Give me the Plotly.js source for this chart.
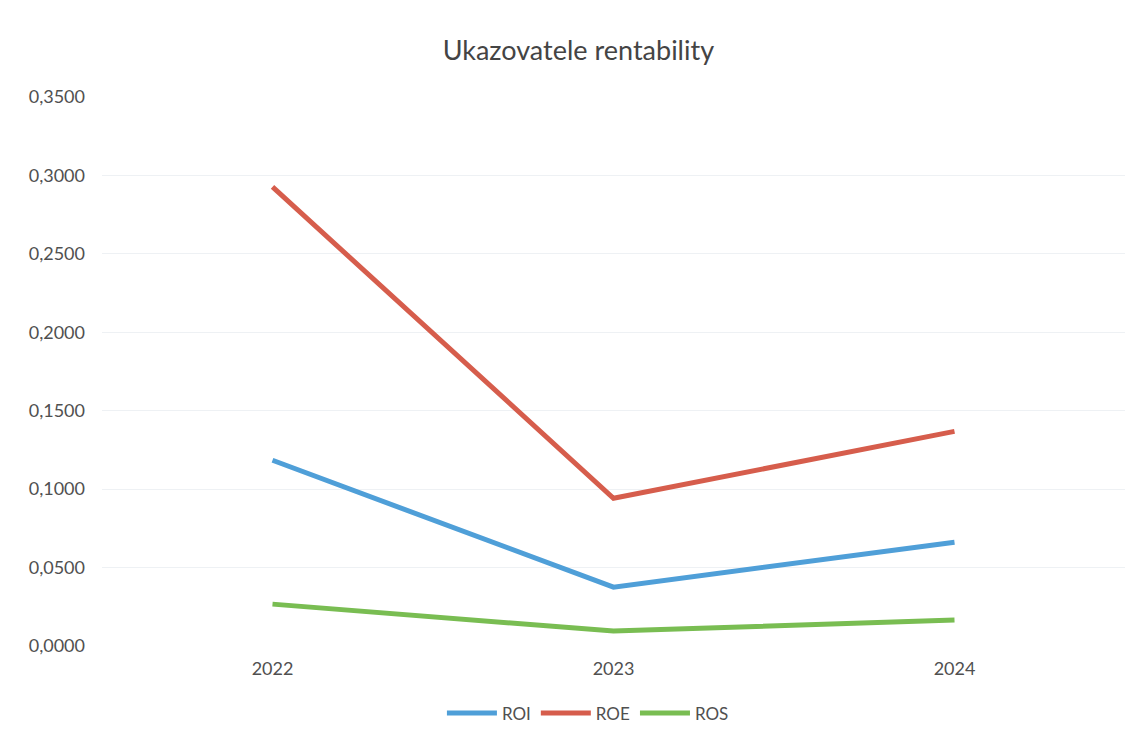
<!DOCTYPE html>
<html>
<head>
<meta charset="utf-8">
<script src="https://cdn.plot.ly/plotly-3.0.1.min.js"></script>
<style>html,body{margin:0;padding:0;background:#fff;}#chart{width:1143px;height:742px;}</style>
</head>
<body>
<div id="chart"></div>
<script>
const years = ['2022', '2023', '2024'];
const roi = [0.1184, 0.0375, 0.0662];
const roe = [0.2927, 0.0942, 0.1368];
const ros = [0.0267, 0.0095, 0.0165];

const font = 'Lato, "Open Sans", "Liberation Sans", sans-serif';
const traces = [
  {x: years, y: roi, name: 'ROI', type: 'scatter', mode: 'lines', line: {color: '#4f9fd8', width: 5}},
  {x: years, y: roe, name: 'ROE', type: 'scatter', mode: 'lines', line: {color: '#d65d4c', width: 5}},
  {x: years, y: ros, name: 'ROS', type: 'scatter', mode: 'lines', line: {color: '#79bd52', width: 5}}
];
const layout = {
  width: 1143, height: 742,
  paper_bgcolor: '#ffffff', plot_bgcolor: '#ffffff',
  margin: {l: 102, r: 18, t: 97, b: 95},
  separators: ', ',
  font: {family: font, color: '#555555'},
  title: {text: 'Ukazovatele rentability', x: 0.506, xanchor: 'center', y: 0.932, yanchor: 'middle',
          font: {family: font, size: 27, color: '#444444'}},
  xaxis: {type: 'category', range: [-0.5, 2.5], showgrid: false, zeroline: false, showline: false,
          ticks: '', tickfont: {size: 18, color: '#505050'}, ticklabelstandoff: 10},
  yaxis: {range: [0, 0.35], dtick: 0.05, tick0: 0, tickformat: '.4f', showgrid: true, gridcolor: '#eef1f4',
          gridwidth: 1, zeroline: false, showline: false, ticks: '', tickfont: {size: 18, color: '#505050'},
          ticklabelstandoff: 16},
  showlegend: true,
  legend: {orientation: 'h', x: 0.475, xanchor: 'center', y: -0.088, yanchor: 'top',
           font: {size: 17, color: '#505050'}, itemwidth: 50, traceorder: 'normal'}
};
Plotly.newPlot('chart', traces, layout, {displayModeBar: false, staticPlot: true});
</script>
</body>
</html>
